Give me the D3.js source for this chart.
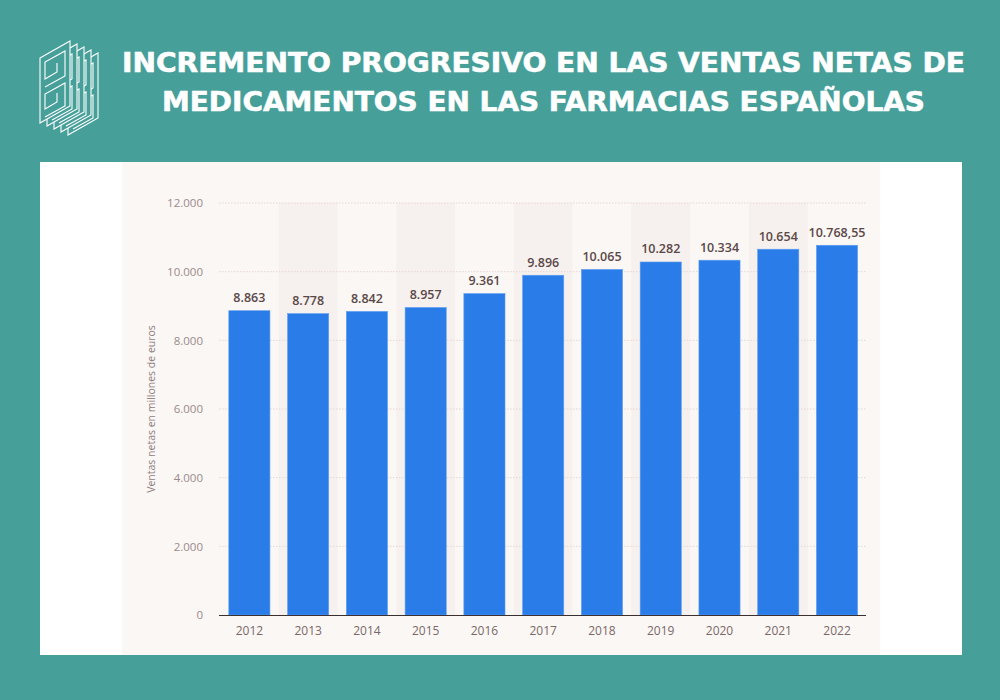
<!DOCTYPE html>
<html><head><meta charset="utf-8">
<script src="https://cdn.jsdelivr.net/npm/d3@7"></script>
<style>body{margin:0;background:#479f9a;}svg{display:block;}</style>
</head><body>
<svg id="c" width="1000" height="700"></svg>
<script>
const years = ["2012","2013","2014","2015","2016","2017","2018","2019","2020","2021","2022"];
const ventas = [8863, 8778, 8842, 8957, 9361, 9896, 10065, 10282, 10334, 10654, 10768.55];
const valueLabels = ["8.863","8.778","8.842","8.957","9.361","9.896","10.065","10.282","10.334","10.654","10.768,55"];
const yTicks = [0, 2000, 4000, 6000, 8000, 10000, 12000];
const titleLines = ["INCREMENTO PROGRESIVO EN LAS VENTAS NETAS DE", "MEDICAMENTOS EN LAS FARMACIAS ESPAÑOLAS"];
const yTitle = "Ventas netas en millones de euros";

const svg = d3.select("#c");
svg.append("rect").attr("width",1000).attr("height",700).attr("fill","#479f9a");

// logo
const logo = svg.append("g").attr("transform","translate(40,41)").attr("fill","none")
  .attr("stroke","#ffffff").attr("stroke-width",1.1).attr("stroke-linejoin","miter");
for (let i=4;i>=0;i--){
  const g = logo.append("g").attr("transform",`translate(${i*7},${i*3})`);
  g.append("path").attr("d","M0,17 L30,0 L30,65 L0,82 Z").attr("fill","#479f9a");
  g.append("path").attr("d","M5,46 L25,35 L25,10 L5,21 L5,38 L17,31 L17,22");
  g.append("path").attr("d","M5,76 L25,65 L25,42 L5,53 L5,68 L17,61 L17,52");
}

// title
const t = svg.append("text").attr("fill","#fff").attr("stroke","#fff").attr("stroke-width",0.6)
  .attr("font-family","'DejaVu Sans', sans-serif")
  .attr("font-weight",700).attr("font-size",27).attr("text-anchor","middle");
t.append("tspan").attr("x",543.5).attr("y",72).attr("textLength",843).attr("lengthAdjust","spacingAndGlyphs").text(titleLines[0]);
t.append("tspan").attr("x",543.5).attr("y",111).attr("textLength",763).attr("lengthAdjust","spacingAndGlyphs").text(titleLines[1]);

// panels
svg.append("rect").attr("x",40).attr("y",162).attr("width",922).attr("height",493).attr("fill","#ffffff");
svg.append("rect").attr("x",122).attr("y",162).attr("width",758).attr("height",493).attr("fill","#faf7f4");

const x = d3.scaleBand().domain(years).range([220,866.4]).paddingInner(0.3).paddingOuter(0.15);
const y = d3.scaleLinear().domain([0,12000]).range([615,203]);
const step = x.step();

// alternating column shading
svg.append("g").selectAll("rect").data(years.filter((d,i)=>i%2===1)).join("rect")
  .attr("x",d=>x(d)-step*0.15).attr("width",step).attr("y",y(12000)).attr("height",y(0)-y(12000))
  .attr("fill","#f6f1ee");

// gridlines
svg.append("g").selectAll("line").data(yTicks.filter(d=>d>0)).join("line")
  .attr("x1",219).attr("x2",866).attr("y1",d=>y(d)).attr("y2",d=>y(d))
  .attr("stroke","#e6d6d6").attr("stroke-dasharray","1.5,1.5").attr("stroke-width",1);

// bars
svg.append("g").selectAll("rect").data(years).join("rect")
  .attr("x",d=>x(d)).attr("width",x.bandwidth())
  .attr("y",(d,i)=>y(ventas[i])).attr("height",(d,i)=>y(0)-y(ventas[i]))
  .attr("fill","#2a7de8").attr("stroke","#5e9cf0").attr("stroke-width",0.6);

// value labels
svg.append("g").selectAll("text").data(years).join("text")
  .attr("x",d=>x(d)+x.bandwidth()/2).attr("y",(d,i)=>y(ventas[i])-8.5)
  .attr("text-anchor","middle").attr("font-family","'Open Sans', sans-serif").attr("font-size",12.5)
  .attr("font-weight",600).attr("fill","#5a4848").text((d,i)=>valueLabels[i]);

// axis line
svg.append("line").attr("x1",219).attr("x2",866).attr("y1",615.5).attr("y2",615.5).attr("stroke","#3a3030").attr("stroke-width",1.2);

// y axis via d3
const fmt = d=> d===0 ? "0" : d3.format(",")(d).replace(/,/g,".");
const ya = svg.append("g").attr("transform","translate(209,0)")
  .call(d3.axisLeft(y).tickValues(yTicks).tickSize(0).tickPadding(6).tickFormat(fmt));
ya.select(".domain").remove();
ya.selectAll("text").attr("font-family","'Open Sans', sans-serif").attr("font-size",11.5).attr("fill","#9b8a8a");

// x axis
const xa = svg.append("g").attr("transform","translate(0,615)")
  .call(d3.axisBottom(x).tickSize(0).tickPadding(11));
xa.select(".domain").remove();
xa.selectAll("text").attr("font-family","'Open Sans', sans-serif").attr("font-size",12).attr("fill","#7a6868");

// y title
svg.append("text").attr("transform","translate(155,409) rotate(-90)").attr("text-anchor","middle")
  .attr("font-family","'Open Sans', sans-serif").attr("font-size",10.5).attr("fill","#8f7e7e").text(yTitle);
</script>
</body></html>
